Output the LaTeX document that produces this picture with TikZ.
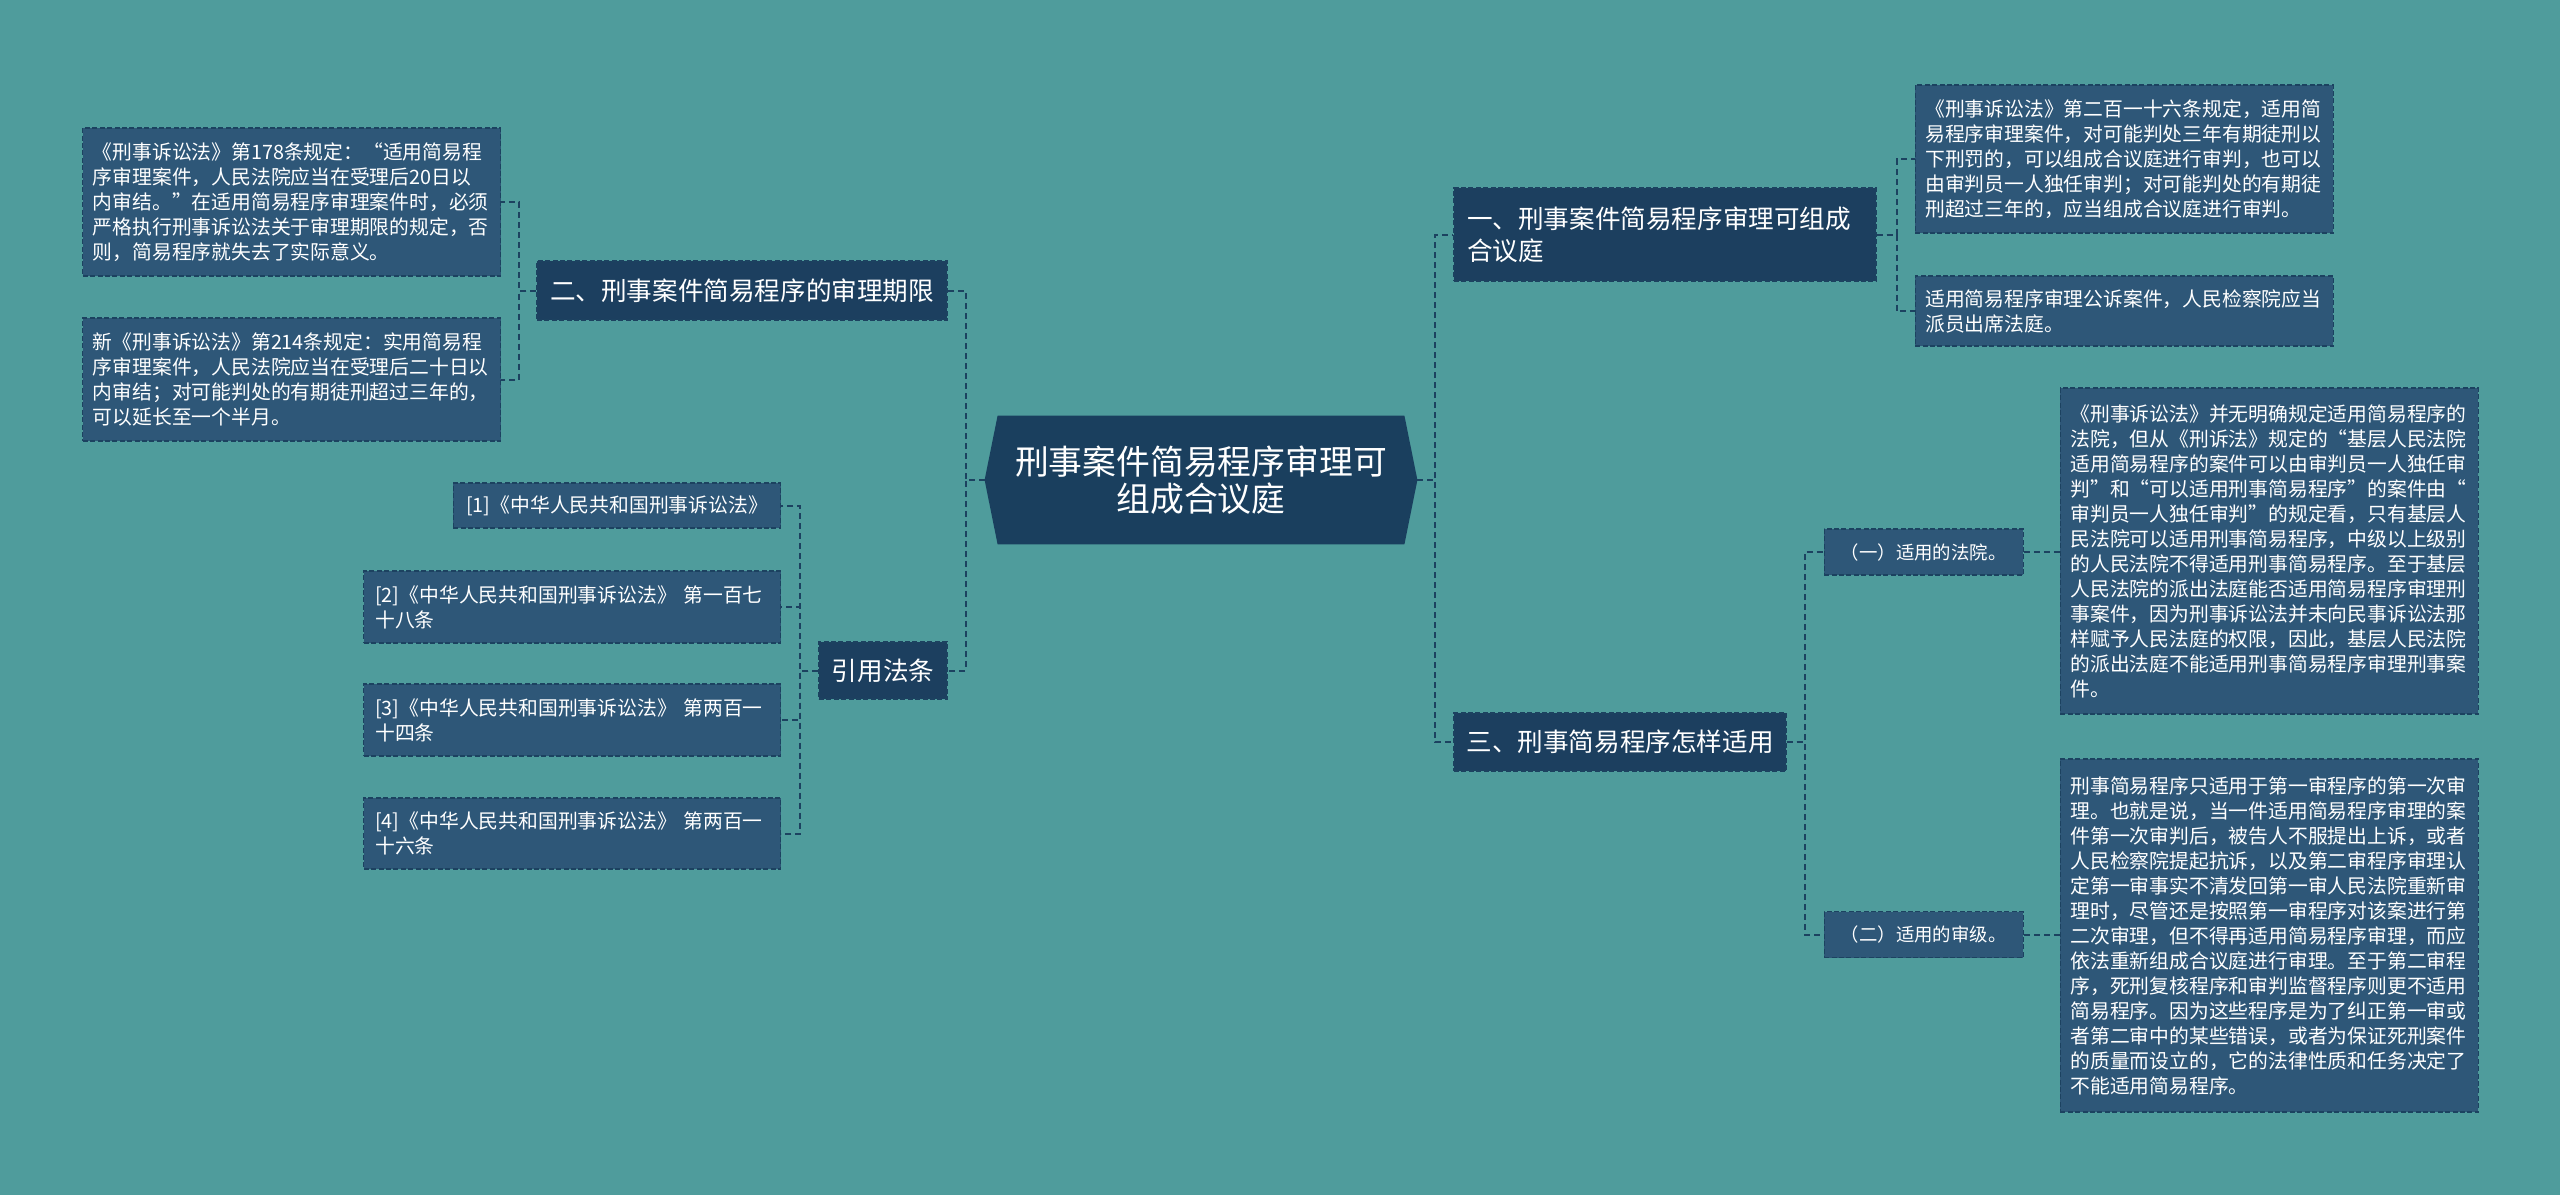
\documentclass[tikz,border=0pt]{standalone}
\usepackage{fontspec}
\setmainfont{Noto Sans CJK SC}
\usepackage{xcolor}
\usepackage{tikz}
\usetikzlibrary{positioning,backgrounds}
\definecolor{bgteal}{HTML}{4F9C9C}
\definecolor{rootblue}{HTML}{1A3F5E}
\definecolor{branchblue}{HTML}{1C3F5F}
\definecolor{leafblue}{HTML}{2E5778}
\definecolor{linkblue}{HTML}{1C4260}

\begin{document}
\begin{tikzpicture}[
  every node/.style={text=white, inner sep=0pt},
  rootbox/.style={minimum width=216pt, minimum height=64pt, align=center, font=\fontsize{16.9}{18.5}\selectfont},
  branch/.style={draw=linkblue, line width=0.6pt, dash pattern=on 2.5pt off 1.2pt, fill=branchblue, font=\fontsize{12.8}{15.8}\selectfont, align=center},
  leaf/.style={draw=linkblue, line width=0.6pt, dash pattern=on 2.5pt off 1.2pt, fill=leafblue, font=\fontsize{9.9}{12.5}\selectfont, align=left, text width=199pt, inner xsep=5pt},
  sub/.style={draw=linkblue, line width=0.6pt, dash pattern=on 2.5pt off 1.2pt, fill=leafblue, font=\fontsize{9.2}{11}\selectfont, minimum width=99.5pt, minimum height=23pt},
  link/.style={draw=linkblue, line width=1pt, dash pattern=on 3pt off 2pt},
]
  \useasboundingbox (0,0) rectangle (1280pt,-597.5pt);

  % Root
  \node[rootbox] (root) at (600.5pt,-240pt) {刑事案件简易程序审理可\\组成合议庭};

  % Left: 二
  \node[branch, minimum width=205pt, minimum height=29.5pt, left=18.5pt of root, yshift=94.75pt] (limit)
    {二、刑事案件简易程序的审理期限};
  \node[leaf, minimum height=74pt, left=17.5pt of limit, yshift=44.25pt] (limit1)
    {《刑事诉讼法》第178条规定：“适用简易程\\序审理案件，人民法院应当在受理后20日以\\内审结。”在适用简易程序审理案件时，必须\\严格执行刑事诉讼法关于审理期限的规定，否\\则，简易程序就失去了实际意义。};
  \node[leaf, minimum height=61.5pt, left=17.5pt of limit, yshift=-44.5pt] (limit2)
    {新《刑事诉讼法》第214条规定：实用简易程\\序审理案件，人民法院应当在受理后二十日以\\内审结；对可能判处的有期徒刑超过三年的，\\可以延长至一个半月。};

  % Left: 引用法条
  \node[branch, minimum width=64pt, minimum height=28.5pt, left=18.5pt of root, yshift=-95.25pt] (cite)
    {引用法条};
  \node[leaf, text width=, align=center, inner xsep=6.5pt, minimum height=22.5pt, left=18.5pt of cite, yshift=82.5pt] (cite1)
    {[1]《中华人民共和国刑事诉讼法》};
  \node[leaf, text width=197pt, inner xsep=5.75pt, minimum height=36pt, left=18.5pt of cite, yshift=31.75pt] (cite2)
    {[2]《中华人民共和国刑事诉讼法》 第一百七\\十八条};
  \node[leaf, text width=197pt, inner xsep=5.75pt, minimum height=36pt, left=18.5pt of cite, yshift=-24.75pt] (cite3)
    {[3]《中华人民共和国刑事诉讼法》 第两百一\\十四条};
  \node[leaf, text width=197pt, inner xsep=5.75pt, minimum height=35.5pt, left=18.5pt of cite, yshift=-81.5pt] (cite4)
    {[4]《中华人民共和国刑事诉讼法》 第两百一\\十六条};

  % Right: 一
  \node[branch, align=left, text width=198pt, inner xsep=6.5pt, minimum height=46.5pt, right=18pt of root, yshift=122.75pt] (panel)
    {一、刑事案件简易程序审理可组成\\合议庭};
  \node[leaf, minimum height=74pt, right=19pt of panel, yshift=37.75pt] (panel1)
    {《刑事诉讼法》第二百一十六条规定，适用简\\易程序审理案件，对可能判处三年有期徒刑以\\下刑罚的，可以组成合议庭进行审判，也可以\\由审判员一人独任审判；对可能判处的有期徒\\刑超过三年的，应当组成合议庭进行审判。};
  \node[leaf, minimum height=35pt, right=19pt of panel, yshift=-38.25pt] (panel2)
    {适用简易程序审理公诉案件，人民检察院应当\\派员出席法庭。};

  % Right: 三
  \node[branch, minimum width=166pt, minimum height=29pt, right=18pt of root, yshift=-131pt] (apply)
    {三、刑事简易程序怎样适用};
  \node[sub, right=18.5pt of apply, yshift=95pt] (court) {（一）适用的法院。};
  \node[sub, right=18.5pt of apply, yshift=-96.25pt] (level) {（二）适用的审级。};
  \node[leaf, minimum height=163pt, right=18pt of court, yshift=0.5pt] (court1)
    {《刑事诉讼法》并无明确规定适用简易程序的\\法院，但从《刑诉法》规定的“基层人民法院\\适用简易程序的案件可以由审判员一人独任审\\判”和“可以适用刑事简易程序”的案件由“\\审判员一人独任审判”的规定看，只有基层人\\民法院可以适用刑事简易程序，中级以上级别\\的人民法院不得适用刑事简易程序。至于基层\\人民法院的派出法庭能否适用简易程序审理刑\\事案件，因为刑事诉讼法并未向民事诉讼法那\\样赋予人民法庭的权限，因此，基层人民法院\\的派出法庭不能适用刑事简易程序审理刑事案\\件。};
  \node[leaf, minimum height=176.5pt, right=18pt of level, yshift=-0.5pt] (level1)
    {刑事简易程序只适用于第一审程序的第一次审\\理。也就是说，当一件适用简易程序审理的案\\件第一次审判后，被告人不服提出上诉，或者\\人民检察院提起抗诉，以及第二审程序审理认\\定第一审事实不清发回第一审人民法院重新审\\理时，尽管还是按照第一审程序对该案进行第\\二次审理，但不得再适用简易程序审理，而应\\依法重新组成合议庭进行审理。至于第二审程\\序，死刑复核程序和审判监督程序则更不适用\\简易程序。因为这些程序是为了纠正第一审或\\者第二审中的某些错误，或者为保证死刑案件\\的质量而设立的，它的法律性质和任务决定了\\不能适用简易程序。};

  % Background and root shape
  \begin{scope}[on background layer]
    \fill[bgteal] (0,0) rectangle (1280pt,-597.5pt);
    \fill[rootblue] ([xshift=6.5pt]root.north west) -- ([xshift=-6.5pt]root.north east) -- (root.east)
      -- ([xshift=-6.5pt]root.south east) -- ([xshift=6.5pt]root.south west) -- (root.west) -- cycle;
  \end{scope}

  % Links
  \draw[link] (root.west) -- ++(-9.5pt,0) |- (limit.east);
  \draw[link] (root.west) -- ++(-9.5pt,0) |- (cite.east);
  \draw[link] (limit.west) -- ++(-8.5pt,0) |- (limit1.east);
  \draw[link] (limit.west) -- ++(-8.5pt,0) |- (limit2.east);
  \foreach \n in {cite1,cite2,cite3,cite4}
    \draw[link] (cite.west) -- ++(-9pt,0) |- (\n.east);
  \draw[link] (root.east) -- ++(9pt,0) |- (panel.west);
  \draw[link] (root.east) -- ++(9pt,0) |- (apply.west);
  \draw[link] (panel.east) -- ++(10pt,0) |- (panel1.west);
  \draw[link] (panel.east) -- ++(10pt,0) |- (panel2.west);
  \draw[link] (apply.east) -- ++(9pt,0) |- (court.west);
  \draw[link] (apply.east) -- ++(9pt,0) |- (level.west);
  \draw[link] (court.east) -- (court.east -| court1.west);
  \draw[link] (level.east) -- (level.east -| level1.west);

\end{tikzpicture}
\end{document}
